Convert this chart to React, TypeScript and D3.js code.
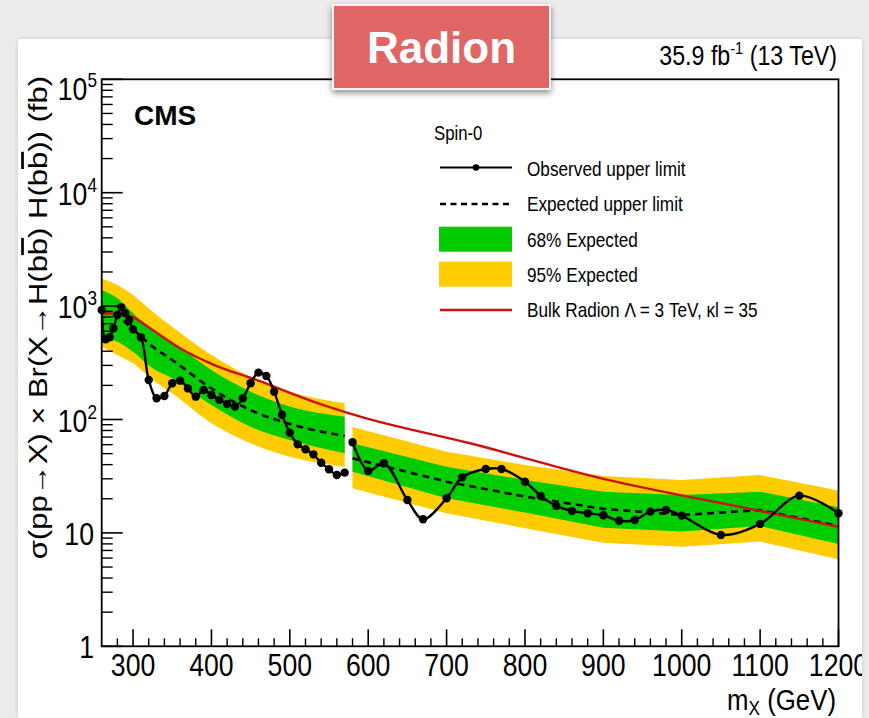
import React from 'react';
import * as d3 from 'd3';

// ---------- data ----------
const obs1M = [260,265,270,275,280,285,290,295,300,310,320,330,340,350,360,370,380,390,400,410,420,430,440,450,460,470,480,490,500,510,520,530,540,550,560,570];
const obs1V = [924,510,531,637,835,976,864,754,624,531,223,154,161,209,220,188,159,182,164,149,137,130,154,209,259,242,176,110,76.5,60.4,54.6,49.3,41.6,36.4,32.4,34];
const obs2M = [580,600,620,650,670,700,720,750,770,800,820,840,860,880,900,920,940,960,980,1000,1050,1100,1150,1200];
const obs2V = [63,35.2,41.1,19.5,13.2,20.2,30.9,36.6,36.6,28.3,21.2,17.3,15.6,14.9,14.3,12.8,13.0,15.4,15.9,14.2,9.6,12.0,21.3,14.9];

const exp1M = [260,280,300,325,350,400,450,500,570];
const exp1V = [893,807,624,439,335,188,121,91.3,71.6];
const g1Lo = [520,486,396,283,231,134,86.4,65.9,50.3];
const g1Hi = [1387,1172,864,615,485,273,176,130,106];
const y1Lo = [439,371,313,223,170,92.5,61.7,47,38.4];
const y1Hi = [1750,1535,1253,893,658,371,238,176,139];

const exp2M = [580,700,800,900,1000,1100,1200];
const exp2V = [45.5,28.3,20.9,16.3,14.4,15.9,11.5];
const g2Lo = [34.7,20.2,15.1,11.1,10.3,11.5,8.0];
const g2Hi = [61.7,38.4,29.3,23.1,21.6,23.1,16.8];
const y2Lo = [24.7,14.9,11.0,8.2,7.55,8.4,5.85];
const y2Hi = [86,52,39.7,31.8,29.3,32.4,23.6];

const radionM = [260,280,300,320,360,400,460,530,590,730,900,1070,1200];
const radionV = [865,860,800,650,425,310,220,144,106,61.7,30,17.2,11.3];

const xTickValues = [300,400,500,600,700,800,900,1000,1100,1200];
const yTickExps = [0,1,2,3,4,5];

const legendLabels = ['Observed upper limit','Expected upper limit','68% Expected','95% Expected'];

// ---------- layout ----------
const W = 869, H = 718;
const X0 = 101.7, X1 = 838.5, YT = 79.3, YB = 646.3;
const GREEN = '#00cc00', YELLOW = '#ffcc00', RED = '#cc1111';
const FONT = "'Liberation Sans', Arial, Helvetica, sans-serif";
const SX = 0.86;

const x = d3.scaleLinear().domain([260, 1200]).range([X0, X1]);
const y = d3.scaleLog().domain([1, 1e5]).range([YB, YT]);

const lineGen = (curve: any) => d3.line<[number, number]>().x(d => x(d[0])).y(d => y(d[1])).curve(curve);
const areaGen = (curve: any) => d3.area<[number, number, number]>().x(d => x(d[0])).y0(d => y(d[1])).y1(d => y(d[2])).curve(curve);

const zip2 = (a: number[], b: number[]) => a.map((v, i) => [v, b[i]] as [number, number]);
const zip3 = (a: number[], b: number[], c: number[]) => a.map((v, i) => [v, b[i], c[i]] as [number, number, number]);

function ST(props: any) {
  const { x: tx, y: ty, sx = SX, anchor = 'start', size, weight = 'normal', fill = '#000', children } = props;
  return (
    <g transform={`translate(${tx},${ty}) scale(${sx},1)`}>
      <text textAnchor={anchor} fontSize={size} fontWeight={weight} fill={fill} fontFamily={FONT}>{children}</text>
    </g>
  );
}

export default function App() {
  const mono = d3.curveMonotoneX;
  const cat = d3.curveCatmullRom.alpha(0.5);

  const xMinor: number[] = [];
  for (let v = 280; v <= 1200; v += 20) if (v % 100 !== 0) xMinor.push(v);
  const yMinor: number[] = [];
  for (let k = 0; k < 5; k++) for (let d = 2; d <= 9; d++) yMinor.push(d * Math.pow(10, k));

  const legX0 = 440, legX1 = 512, legTX = 527;

  return (
    <svg width={W} height={H} viewBox={`0 0 ${W} ${H}`} style={{ position: 'absolute', left: 0, top: 0 }} fontFamily={FONT}>
      <defs>
        <clipPath id="plotClip"><rect x={X0} y={YT} width={X1 - X0} height={YB - YT} /></clipPath>
        <clipPath id="panelClip"><rect x={18} y={39} width={844} height={H - 39} /></clipPath>
        <filter id="shadow" x="-20%" y="-20%" width="140%" height="160%">
          <feDropShadow dx="0" dy="3" stdDeviation="3" floodColor="#000" floodOpacity="0.45" />
        </filter>
        <filter id="pshadow" x="-5%" y="-5%" width="110%" height="110%">
          <feDropShadow dx="0" dy="0" stdDeviation="2" floodColor="#000" floodOpacity="0.15" />
        </filter>
      </defs>

      {/* background */}
      <rect x={0} y={0} width={W} height={H} fill="#ececec" />
      <rect x={18} y={39} width={844} height={H - 39} fill="#ffffff" filter="url(#pshadow)" />

      <g clipPath="url(#panelClip)">
        {/* bands and curves */}
        <g clipPath="url(#plotClip)">
          <path d={areaGen(mono)(zip3(exp1M, y1Lo, y1Hi)) || ''} fill={YELLOW} />
          <path d={areaGen(mono)(zip3(exp1M, g1Lo, g1Hi)) || ''} fill={GREEN} />
          <path d={areaGen(d3.curveLinear)(zip3(exp2M, y2Lo, y2Hi)) || ''} fill={YELLOW} />
          <path d={areaGen(d3.curveLinear)(zip3(exp2M, g2Lo, g2Hi)) || ''} fill={GREEN} />
          <path d={lineGen(mono)(zip2(exp1M, exp1V)) || ''} fill="none" stroke="#000" strokeWidth={2.6} strokeDasharray="7,5" />
          <path d={lineGen(d3.curveLinear)(zip2(exp2M, exp2V)) || ''} fill="none" stroke="#000" strokeWidth={2.6} strokeDasharray="7,5" />
          <path d={lineGen(mono)(zip2(radionM, radionV)) || ''} fill="none" stroke={RED} strokeWidth={2.4} />
          <path d={lineGen(cat)(zip2(obs1M, obs1V)) || ''} fill="none" stroke="#000" strokeWidth={2.4} />
          <path d={lineGen(cat)(zip2(obs2M, obs2V)) || ''} fill="none" stroke="#000" strokeWidth={2.4} />
        </g>
        {obs1M.map((m, i) => <circle key={'a' + i} cx={x(m)} cy={y(obs1V[i])} r={4.2} fill="#000" />)}
        {obs2M.map((m, i) => <circle key={'b' + i} cx={x(m)} cy={y(obs2V[i])} r={4.2} fill="#000" />)}

        {/* frame */}
        <rect x={X0} y={YT} width={X1 - X0} height={YB - YT} fill="none" stroke="#000" strokeWidth={1.8} />

        {/* x ticks */}
        {xTickValues.map(v => <line key={'xt' + v} x1={x(v)} x2={x(v)} y1={YB} y2={YB - 17} stroke="#000" strokeWidth={1.6} />)}
        {xMinor.map(v => <line key={'xm' + v} x1={x(v)} x2={x(v)} y1={YB} y2={YB - 8} stroke="#000" strokeWidth={1.4} />)}
        {/* y ticks */}
        {yTickExps.map(e => <line key={'yt' + e} x1={X0} x2={X0 + 21} y1={y(Math.pow(10, e))} y2={y(Math.pow(10, e))} stroke="#000" strokeWidth={1.6} />)}
        {yMinor.map(v => <line key={'ym' + v} x1={X0} x2={X0 + 11} y1={y(v)} y2={y(v)} stroke="#000" strokeWidth={1.4} />)}

        {/* x tick labels */}
        {xTickValues.map(v => <ST key={'xl' + v} x={x(v)} y={676} anchor="middle" size={31}>{String(v)}</ST>)}

        {/* y tick labels */}
        {yTickExps.map(e => {
          const yy = y(Math.pow(10, e)) + 12 + (e === 5 ? 9 : 0);
          if (e === 0) return <ST key={'yl' + e} x={94} y={yy} anchor="end" size={31}>1</ST>;
          if (e === 1) return <ST key={'yl' + e} x={94} y={yy} anchor="end" size={31}>10</ST>;
          return (
            <ST key={'yl' + e} x={97} y={yy} anchor="end" size={31}>
              10<tspan fontSize={20} dy={-13}>{String(e)}</tspan>
            </ST>
          );
        })}

        {/* axis titles */}
        <g transform={`translate(836,710) scale(${SX},1)`}>
          <text textAnchor="end" fontSize={30} fontFamily={FONT}>
            m<tspan fontSize={20} dy={5}>X</tspan><tspan dy={-5}> (GeV)</tspan>
          </text>
        </g>
        <g transform={`translate(47,76) rotate(-90) scale(1,${SX})`}>
          <text textAnchor="end" fontSize={31} fontFamily={FONT}>
            σ(pp→X) × Br(X→H(b<tspan style={{ textDecoration: 'overline' }}>b</tspan>) H(b<tspan style={{ textDecoration: 'overline' }}>b</tspan>)) (fb)
          </text>
        </g>

        {/* CMS label */}
        <text x={134} y={125} fontSize={28} fontWeight="bold" fontFamily={FONT}>CMS</text>

        {/* lumi */}
        <g transform={`translate(837,65) scale(${SX},1)`}>
          <text textAnchor="end" fontSize={27} fontFamily={FONT}>
            35.9 fb<tspan fontSize={17} dy={-11}>-1</tspan><tspan dy={11}> (13 TeV)</tspan>
          </text>
        </g>

        {/* legend */}
        <ST x={434} y={140} size={19.5}>Spin-0</ST>
        <line x1={legX0} x2={legX1} y1={167.5} y2={167.5} stroke="#000" strokeWidth={2.2} />
        <circle cx={(legX0 + legX1) / 2} cy={167.5} r={3.3} fill="#000" />
        <ST x={legTX} y={175.5} size={20}>{legendLabels[0]}</ST>
        <line x1={legX0} x2={legX1} y1={204} y2={204} stroke="#000" strokeWidth={2.4} strokeDasharray="6,4.5" />
        <ST x={legTX} y={211} size={20}>{legendLabels[1]}</ST>
        <rect x={legX0 - 1} y={226.7} width={legX1 - legX0 + 1} height={25} fill={GREEN} />
        <ST x={legTX} y={246.7} size={20}>{legendLabels[2]}</ST>
        <rect x={legX0 - 1} y={261.7} width={legX1 - legX0 + 1} height={25} fill={YELLOW} />
        <ST x={legTX} y={281.7} size={20}>{legendLabels[3]}</ST>
        <line x1={legX0} x2={legX1} y1={310} y2={310} stroke={RED} strokeWidth={2.4} />
        <ST x={legTX} y={317} size={20}>Bulk Radion Λ = 3 TeV, κl = 35</ST>
      </g>

      {/* Radion badge */}
      <g filter="url(#shadow)">
        <rect x={333} y={5} width={217} height={84} fill="#e06666" stroke="#f6f6f6" strokeWidth={2} />
      </g>
      <text x={441.5} y={63} textAnchor="middle" fontSize={44} fontWeight="bold" fill="#ffffff" fontFamily={FONT}>Radion</text>
    </svg>
  );
}
